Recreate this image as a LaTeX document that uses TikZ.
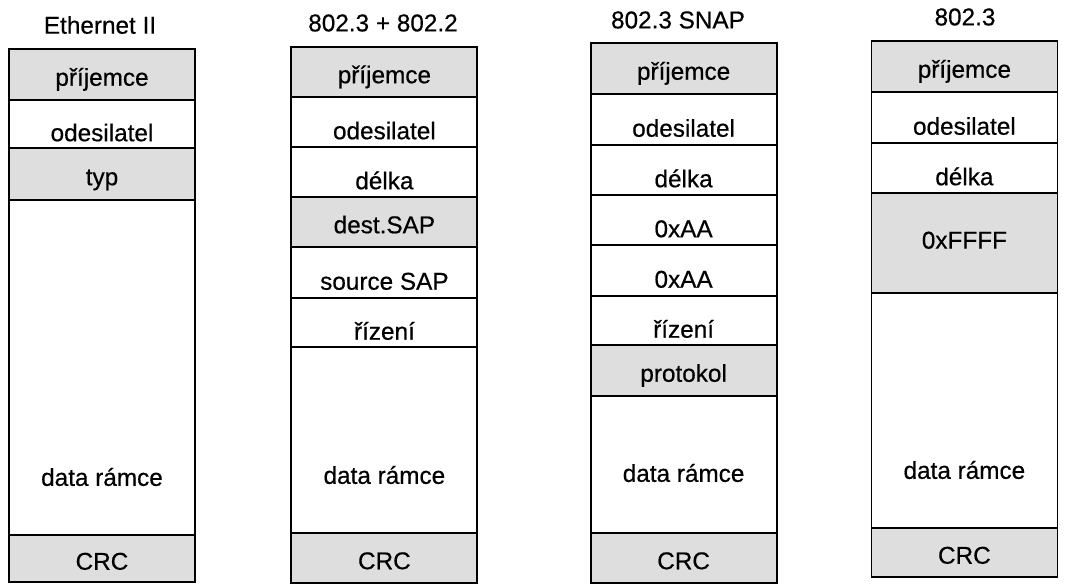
\documentclass[tikz,border=0pt]{standalone}
\usepackage{fontspec}
\setmainfont{Liberation Sans}[FakeBold=0.5]
\usetikzlibrary{positioning}

\begin{document}
\begin{tikzpicture}[x=1mm,y=1mm,node distance=0pt,
    every node/.style={font=\fontsize{17.3}{20}\selectfont},
    field/.style={draw,line width=1.3pt,outer sep=0pt,inner ysep=0pt,
      minimum width=46.5mm,text height=24.5pt,text depth=0pt},
    shaded/.style={field,fill=black!13,text height=16pt}]
    \useasboundingbox (0,0) rectangle (271,-146.25);

    \node (te) at (25,-6.25) {Ethernet II};
    \node[shaded,minimum height=12.75mm,anchor=north] (e1) at (25.5,-12.25) {příjemce};
    \node[field,minimum height=12mm] (e2) [below=of e1] {odesilatel};
    \node[shaded,minimum height=13mm] (e3) [below=of e2] {typ};
    \node[field,minimum height=83.75mm] (e4) [below=of e3] {};
    \node[shaded,minimum height=11.75mm] (e5) [below=of e4] {CRC};
    \node (de) at ([yshift=14.5mm]e4.south) {data rámce};

    \node (tl) at (95.75,-5.75) {802.3 + 802.2};
    \node[shaded,minimum height=12.5mm,anchor=north] (l1) at (96.1,-11.75) {příjemce};
    \node[field,minimum height=12.5mm] (l2) [below=of l1] {odesilatel};
    \node[field,minimum height=12.5mm] (l3) [below=of l2] {délka};
    \node[shaded,minimum height=12.5mm] (l4) [below=of l3] {dest.SAP};
    \node[field,minimum height=12.75mm] (l5) [below=of l4] {source SAP};
    \node[field,minimum height=12.25mm] (l6) [below=of l5] {řízení};
    \node[field,minimum height=46.5mm] (l7) [below=of l6] {};
    \node[shaded,minimum height=12.5mm] (l8) [below=of l7] {CRC};
    \node (dl) at ([yshift=14.5mm]l7.south) {data rámce};

    \node (ts) at (169.5,-5) {802.3 SNAP};
    \node[shaded,minimum height=12.75mm,anchor=north] (s1) at (170.9,-10.75) {příjemce};
    \node[field,minimum height=12.75mm] (s2) [below=of s1] {odesilatel};
    \node[field,minimum height=12.5mm] (s3) [below=of s2] {délka};
    \node[field,minimum height=12.5mm] (s4) [below=of s3] {0xAA};
    \node[field,minimum height=12.75mm] (s5) [below=of s4] {0xAA};
    \node[field,minimum height=12.25mm] (s6) [below=of s5] {řízení};
    \node[shaded,minimum height=12.75mm] (s7) [below=of s6] {protokol};
    \node[field,minimum height=34.25mm] (s8) [below=of s7] {};
    \node[shaded,minimum height=12.5mm] (s9) [below=of s8] {CRC};
    \node (ds) at ([yshift=15mm]s8.south) {data rámce};

    \node (tr) at (241.25,-4.25) {802.3};
    \node[shaded,minimum height=12.75mm,anchor=north] (r1) at (241.1,-10.25) {příjemce};
    \node[field,minimum height=12.75mm] (r2) [below=of r1] {odesilatel};
    \node[field,minimum height=12.5mm] (r3) [below=of r2] {délka};
    \node[shaded,minimum height=25mm,text height=8pt] (r4) [below=of r3] {0xFFFF};
    \node[field,minimum height=58.75mm] (r5) [below=of r4] {};
    \node[shaded,minimum height=12.25mm] (r6) [below=of r5] {CRC};
    \node (dr) at ([yshift=14.5mm]r5.south) {data rámce};
  \end{tikzpicture}
\end{document}
